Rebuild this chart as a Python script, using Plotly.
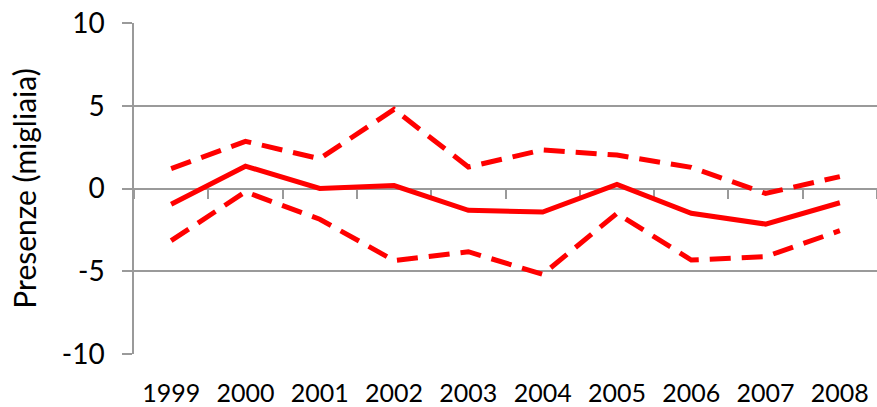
import plotly.graph_objects as go

# Annual change in presences (thousands) with upper/lower bounds
years = ["1999", "2000", "2001", "2002", "2003", "2004", "2005", "2006", "2007", "2008"]
central = [-0.95, 1.35, 0.0, 0.18, -1.32, -1.42, 0.25, -1.5, -2.15, -0.86]
upper = [1.2, 2.85, 1.8, 4.78, 1.3, 2.33, 2.02, 1.28, -0.3, 0.72]
lower = [-3.15, -0.2, -1.86, -4.35, -3.82, -5.19, -1.5, -4.32, -4.12, -2.55]

y_ticks = [-10, -5, 0, 5, 10]
y_tick_text = ["-10", "-5", "0", "5", "10"]
y_title = "Presenze (migliaia)"

RED = "#FF0000"
GRID = "#9a9a9a"
FAMILY = "Lato, 'Open Sans', sans-serif"
X_FONT = dict(family=FAMILY, size=25, color="#000000")
Y_FONT = dict(family=FAMILY, size=28, color="#000000")
TITLE_FONT = dict(family=FAMILY, size=30, color="#000000")

fig = go.Figure()

fig.add_trace(go.Scatter(x=years, y=upper, mode="lines",
                         line=dict(color=RED, width=5, dash="21px,11px"),
                         showlegend=False, hoverinfo="skip"))
fig.add_trace(go.Scatter(x=years, y=lower, mode="lines",
                         line=dict(color=RED, width=5, dash="21px,11px"),
                         showlegend=False, hoverinfo="skip"))
fig.add_trace(go.Scatter(x=years, y=central, mode="lines",
                         line=dict(color=RED, width=5),
                         showlegend=False, hoverinfo="skip"))

fig.update_layout(
    width=877, height=407,
    margin=dict(l=134, r=0, t=23, b=53),
    paper_bgcolor="white", plot_bgcolor="white",
    font=X_FONT,
    # Category axis crosses the value axis at zero; its labels sit low
    xaxis=dict(
        type="category", categoryorder="array", categoryarray=years,
        range=[-0.5, 9.5], anchor="free", position=0.5,
        showline=True, linecolor=GRID, linewidth=1.5,
        ticks="outside", tickson="boundaries", ticklen=10, tickcolor=GRID,
        tickwidth=1.5, showgrid=False, zeroline=False,
        ticklabelstandoff=183, tickfont=X_FONT, layer="below traces",
        automargin=False,
    ),
    yaxis=dict(
        range=[-10, 10], tickvals=y_ticks, ticktext=y_tick_text,
        showgrid=True, gridcolor=GRID,
        gridwidth=1.5, zeroline=False, showline=True, linecolor=GRID,
        linewidth=1.5, ticks="outside", ticklen=10, tickcolor=GRID,
        tickwidth=1.5, ticklabelstandoff=12, tickfont=Y_FONT,
        title=dict(text=y_title, font=TITLE_FONT, standoff=16),
        layer="below traces", automargin=False,
    ),
)

fig.write_html("out.html")
